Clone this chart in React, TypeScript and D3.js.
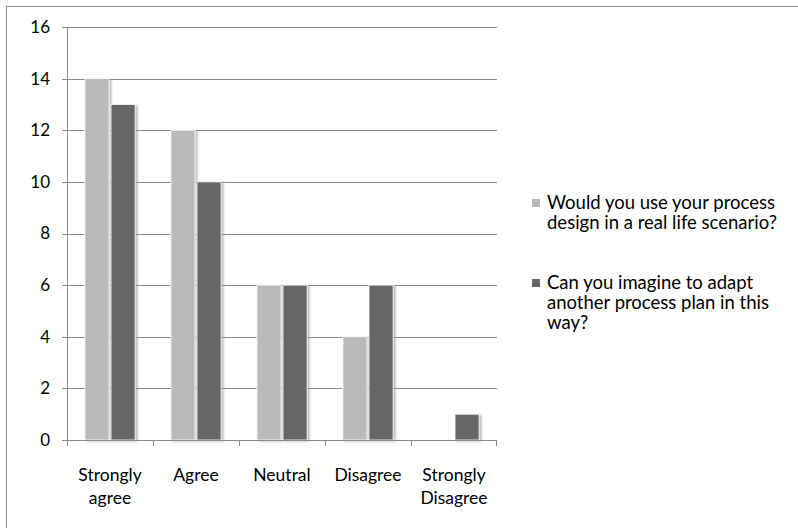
import React from "react";
import * as d3 from "d3";

const categories = [["Strongly", "agree"], ["Agree"], ["Neutral"], ["Disagree"], ["Strongly", "Disagree"]];
const seriesNames = [
  ["Would you use your process", "design in a real life scenario?"],
  ["Can you imagine to adapt", "another process plan in this", "way?"],
];
const series1 = [14, 12, 6, 4, 0];
const series2 = [13, 10, 6, 6, 1];
const yTicks = [0, 2, 4, 6, 8, 10, 12, 14, 16];
const colors = ["#bababa", "#666666"];

export default function App() {
  const W = 798, H = 528;
  const left = 67, right = 497, top = 27, bottom = 440;
  const x0 = d3.scaleBand().domain(categories.map((_, i) => String(i))).range([left, right]).paddingInner(0).paddingOuter(0);
  const y = d3.scaleLinear().domain([0, 16]).range([bottom, top]);
  const bw = x0.bandwidth();
  const barW = bw * 0.28;
  const gap = 2;
  const font = "Lato, 'Open Sans', sans-serif";
  const grid = "#8a8a8a";
  const data = [series1, series2];
  return (
    <svg width={W} height={H} style={{ position: "absolute", left: 0, top: 0, background: "#fff" }} fontFamily={font}>
      <defs>
        <filter id="sh" x="-30%" y="-10%" width="160%" height="130%">
          <feDropShadow dx="2" dy="1" stdDeviation="1.3" floodColor="#888" floodOpacity="0.6" />
        </filter>
      </defs>
      <rect x={6.5} y={6.5} width={W} height={H} fill="#fff" stroke="#8c8c8c" strokeWidth={1} />
      {yTicks.map((t) => (
        <g key={t}>
          {t > 0 && <line x1={left} x2={right} y1={Math.round(y(t)) + 0.5} y2={Math.round(y(t)) + 0.5} stroke={grid} strokeWidth={1} />}
          <line x1={left - 5} x2={left} y1={Math.round(y(t)) + 0.5} y2={Math.round(y(t)) + 0.5} stroke={grid} />
          <text x={50} y={y(t)} dy="0.35em" textAnchor="end" fontSize={17} fill="#000">{t}</text>
        </g>
      ))}
      {categories.map((c, i) => {
        const cx = (x0(String(i)) as number) + bw / 2;
        return (
          <g key={i}>
            {data.map((s, k) => {
              if (s[i] === 0) return null;
              const bx = k === 0 ? cx - gap / 2 - barW : cx + gap / 2;
              return (
                <rect key={k} x={bx} y={y(s[i])} width={barW} height={bottom - y(s[i])} fill={colors[k]} stroke="#fff" strokeWidth={0.8} filter="url(#sh)" />
              );
            })}
            {c.map((l, j) => (
              <text key={j} x={cx} y={475 + j * 23} dy="0.35em" textAnchor="middle" fontSize={17.5} fill="#000">{l}</text>
            ))}
          </g>
        );
      })}
      <line x1={left + 0.5} x2={left + 0.5} y1={top} y2={bottom} stroke={grid} />
      <line x1={left} x2={right} y1={bottom + 0.5} y2={bottom + 0.5} stroke={grid} />
      {categories.map((_, i) => (
        <line key={i} x1={Math.round(x0(String(i)) as number) + 0.5} x2={Math.round(x0(String(i)) as number) + 0.5} y1={bottom} y2={bottom + 6} stroke={grid} />
      ))}
      <line x1={right - 0.5} x2={right - 0.5} y1={bottom} y2={bottom + 6} stroke={grid} />
      {seriesNames.map((lines, k) => {
        const y0 = k === 0 ? 203 : 283;
        return (
          <g key={k}>
            <rect x={532} y={y0 - 4} width={8} height={8} fill={colors[k]} />
            {lines.map((l, j) => (
              <text key={j} x={547} y={y0 + j * 20} dy="0.35em" fontSize={18.5} fill="#000">{l}</text>
            ))}
          </g>
        );
      })}
    </svg>
  );
}
